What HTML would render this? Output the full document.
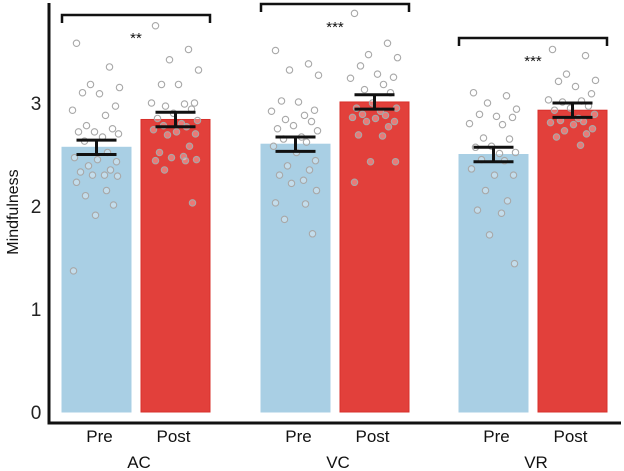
<!DOCTYPE html>
<html><head><meta charset="utf-8"><style>
body{margin:0;background:#fff}
svg{display:block;font-family:"Liberation Sans",sans-serif}
</style></head><body>
<svg id="chart" width="624" height="471" viewBox="0 0 624 471"></svg>
<script>
const groups=["AC","VC","VR"];
const conditions=["Pre","Post"];
const means=[[2.57,2.84],[2.60,3.01],[2.50,2.93]];
const sems=[[0.07,0.07],[0.07,0.07],[0.07,0.07]];
const yTicks=[0,1,2,3];
const sigLabels=["**","***","***"];
const points=[
 [[3.58,3.35,3.18,3.15,3.10,3.09,2.97,2.93,2.88,2.78,2.75,2.72,2.72,2.70,2.67,2.63,2.52,2.47,2.45,2.43,2.39,2.35,2.33,2.30,2.30,2.29,2.23,2.15,2.10,2.01,1.91,1.37],
  [3.75,3.52,3.42,3.32,3.18,3.18,3.00,3.00,2.99,2.97,2.94,2.90,2.85,2.83,2.80,2.78,2.77,2.74,2.72,2.70,2.69,2.58,2.52,2.48,2.47,2.45,2.44,2.44,2.35,2.03]],
 [[3.51,3.38,3.32,3.27,3.02,3.01,2.93,2.92,2.88,2.84,2.82,2.78,2.75,2.73,2.67,2.65,2.62,2.58,2.52,2.44,2.39,2.35,2.30,2.25,2.22,2.15,2.03,2.02,1.87,1.73],
  [3.87,3.58,3.47,3.44,3.36,3.28,3.25,3.24,3.18,3.13,3.10,3.00,2.95,2.95,2.92,2.89,2.88,2.86,2.85,2.82,2.82,2.77,2.69,2.68,2.43,2.43,2.23]],
 [[3.10,3.07,3.00,2.94,2.89,2.87,2.86,2.80,2.79,2.66,2.65,2.58,2.57,2.52,2.51,2.45,2.44,2.36,2.30,2.30,2.15,2.05,1.96,1.93,1.72,1.44],
  [3.52,3.46,3.28,3.22,3.21,3.16,3.09,3.03,3.02,3.01,2.97,2.95,2.93,2.89,2.85,2.83,2.82,2.81,2.79,2.75,2.73,2.70,2.67,2.59]]
];
const jitter=[-20,13,-6,23,-14,3,19,-24,9,-10,16,-2,-18,22,6,-12,11,-22,1,20,-8,14,-16,8,-4,21,-20,10,-11,17,-1,-23];

const NS="http://www.w3.org/2000/svg";
const svg=document.getElementById('chart');
const y0=412,pxU=103;
const y=v=>y0-v*pxU;
const groupX=[62,261,459], barW=69, gap=10;
const barX=(g,c)=>groupX[g]+c*(barW+gap);
function el(tag,attrs,parent){const e=document.createElementNS(NS,tag);for(const k in attrs)e.setAttribute(k,attrs[k]);(parent||svg).appendChild(e);return e;}
const colors=["#a9cfe4","#e2403b"], strokes=["#a9cfe4","#d8302b"];
groups.forEach((gname,g)=>{conditions.forEach((cn,c)=>{
  const x=barX(g,c);
  const r=el('rect',{x:x,y:y(means[g][c]),width:barW,height:y0-y(means[g][c]),fill:colors[c],stroke:strokes[c],'stroke-width':1});
  
  
});});
groups.forEach((gname,g)=>{conditions.forEach((cn,c)=>{
  const cx=barX(g,c)+barW/2;
  points[g][c].forEach((v,i)=>{
    const p=el('circle',{cx:cx+jitter[i%jitter.length],cy:y(v),r:3.2,fill:'rgba(255,255,255,0.3)',stroke:'#a8a8a8','stroke-width':1.1});
    
    
  });
});});
groups.forEach((gname,g)=>{conditions.forEach((cn,c)=>{
  const cx=barX(g,c)+barW/2, m=means[g][c], s=sems[g][c];
  const gEl=el('g',{stroke:'#111','stroke-width':3});
  
  
  el('line',{x1:cx,x2:cx,y1:y(m+s),y2:y(m-s)},gEl);
  el('line',{x1:cx-20,x2:cx+20,y1:y(m+s),y2:y(m+s)},gEl);
  el('line',{x1:cx-20,x2:cx+20,y1:y(m-s),y2:y(m-s)},gEl);
});});
const bracketY=[15,4,38];
groups.forEach((gname,g)=>{
  const x1=barX(g,0), x2=barX(g,1)+barW, by=bracketY[g];
  const b=el('path',{d:`M${x1} ${by+8}V${by}H${x2}V${by+8}`,fill:'none',stroke:'#111','stroke-width':2.5});
  
  
  const t=el('text',{x:(x1+x2)/2,y:by+28,'text-anchor':'middle','font-size':15,fill:'#111'});
  t.textContent=sigLabels[g];
  
  
});
const ax=el('path',{d:'M49 3V423H621',fill:'none',stroke:'#111','stroke-width':3});


yTicks.forEach(v=>{
  const t=el('text',{x:36,y:y(v)+7,'text-anchor':'middle','font-size':19,fill:'#222'});
  t.textContent=v;
  
  
});
groups.forEach((gname,g)=>{
  conditions.forEach((cn,c)=>{
    const t=el('text',{x:barX(g,c)+barW/2+(c?-2:3),y:442,'text-anchor':'middle','font-size':17,fill:'#111'});
    t.textContent=cn;
    
    
  });
  const t=el('text',{x:barX(g,0)+barW+gap/2+3,y:468,'text-anchor':'middle','font-size':17,fill:'#111'});
  t.textContent=gname;
  
  
});
const yt=el('text',{x:0,y:0,transform:'translate(18,212) rotate(-90)','text-anchor':'middle','font-size':16,fill:'#111'});
yt.textContent='Mindfulness';


</script>
</body></html>
